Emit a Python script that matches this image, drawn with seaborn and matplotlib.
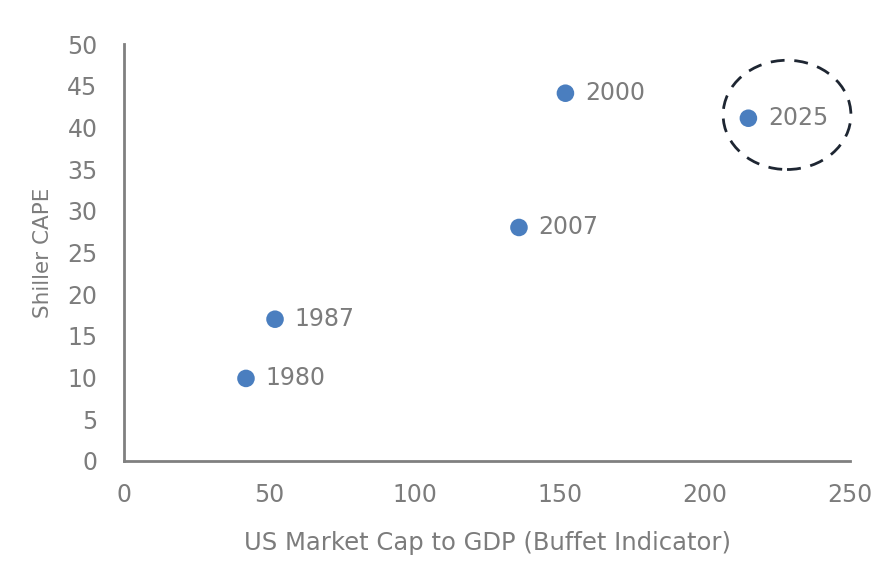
import matplotlib
matplotlib.use("Agg")
import matplotlib.pyplot as plt
import seaborn as sns
import pandas as pd
from matplotlib.patches import Ellipse

# values
years = ["1980", "1987", "2007", "2000", "2025"]
buffet = [42, 52, 136, 152, 215]
cape = [9.9, 17.0, 28.0, 44.1, 41.1]

x_ticks = [0, 50, 100, 150, 200, 250]
y_ticks = [0, 5, 10, 15, 20, 25, 30, 35, 40, 45, 50]

BLUE = "#4a7ebf"
GREY = "#7c7c7c"
AXIS = "#808080"

sns.set_style("white")
plt.rcParams["font.family"] = ["DejaVu Sans"]

df = pd.DataFrame({"year": years, "buffet": buffet, "cape": cape})

fig = plt.figure(figsize=(8.96, 5.76), dpi=100)
ax = fig.add_axes([0.1384, 0.1997, 0.8103, 0.7239])

sns.scatterplot(data=df, x="buffet", y="cape", ax=ax, color=BLUE, s=160,
                edgecolor="none", zorder=3, legend=False)

for _, r in df.iterrows():
    ax.annotate(r["year"], (r["buffet"], r["cape"]), xytext=(14, 0),
                textcoords="offset points", va="center", ha="left",
                fontsize=17, color=GREY)

# dashed highlight around the latest point
ax.add_patch(Ellipse((228.3, 41.5), 44, 13.1, fill=False, edgecolor="#1e2632",
                     linestyle=(0, (5, 3.5)), linewidth=2, clip_on=False, zorder=4))

ax.set_xlim(0, 250)
ax.set_ylim(0, 50)
ax.set_xticks(x_ticks)
ax.set_yticks(y_ticks)
ax.tick_params(axis="both", length=0, labelsize=17, labelcolor=GREY)
ax.tick_params(axis="x", pad=16)
ax.tick_params(axis="y", pad=19)

ax.set_xlabel("US Market Cap to GDP (Buffet Indicator)", fontsize=17.5, color=GREY, labelpad=17)
ax.set_ylabel("Shiller CAPE", fontsize=15.5, color=GREY, labelpad=10)

sns.despine(ax=ax)
for side in ("left", "bottom"):
    ax.spines[side].set_color(AXIS)
    ax.spines[side].set_linewidth(2)

fig.savefig("out.png", dpi=100)
